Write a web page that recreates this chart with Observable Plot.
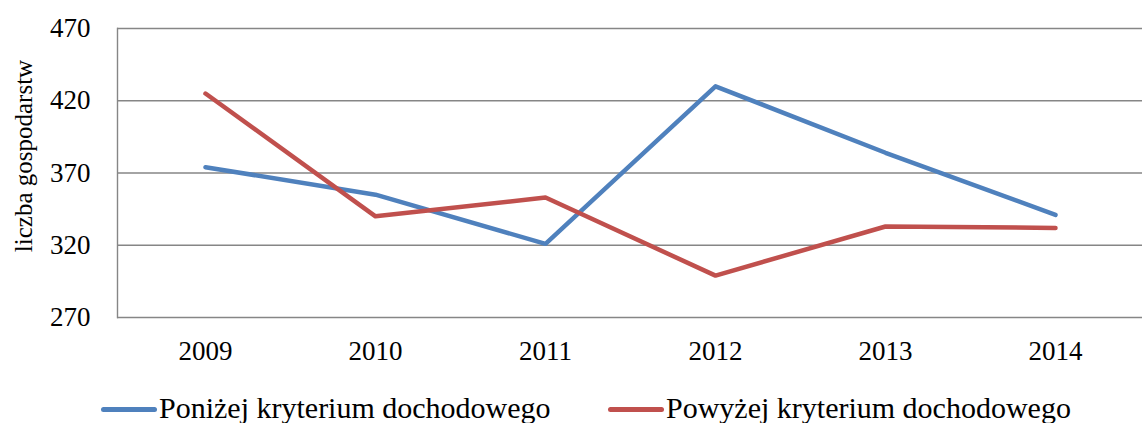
<!DOCTYPE html>
<html>
<head>
<meta charset="utf-8">
<script src="https://cdn.jsdelivr.net/npm/d3@7"></script>
<script src="https://cdn.jsdelivr.net/npm/@observablehq/plot@0.6"></script>
<style>
  body { margin: 0; background: #fff; font-family: "Liberation Serif", "Times New Roman", "DejaVu Serif", serif; }
  #legend { position: relative; height: 43px; width: 1142px; font-size: 30px; color: #000; }
  .item { position: absolute; top: 8px; display: flex; align-items: center; height: 40px; white-space: nowrap; }
  .swatch { width: 56px; height: 5px; border-radius: 3px; margin-right: 2px; margin-top: 2px; }
</style>
</head>
<body>
<div id="chart"></div>
<div id="legend"></div>
<script>
const years = ["2009", "2010", "2011", "2012", "2013", "2014"];
const seriesNames = ["Poniżej kryterium dochodowego", "Powyżej kryterium dochodowego"];
const below = [374, 355, 321, 430, 384, 341];
const above = [425, 340, 353, 299, 333, 332];
const colors = ["#4F81BD", "#C0504D"];
const yTicks = [270, 320, 370, 420, 470];
const yLabel = "liczba gospodarstw";

const rows = [];
[below, above].forEach((vals, s) => {
  vals.forEach((v, i) => rows.push({year: years[i], value: v, series: seriesNames[s]}));
});

const serif = "'Liberation Serif', 'Times New Roman', 'DejaVu Serif', serif";
const chart = Plot.plot({
  width: 1142,
  height: 380,
  marginLeft: 117,
  marginRight: 0,
  marginTop: 28,
  marginBottom: 63,
  style: {fontFamily: serif, fontSize: "27px", color: "#000", background: "#fff"},
  x: {type: "point", domain: years, padding: 0.5},
  y: {domain: [270, 470]},
  color: {domain: seriesNames, range: colors},
  marks: [
    Plot.gridY(yTicks, {stroke: "#868686", strokeOpacity: 1, strokeWidth: 1.4}),
    Plot.frame({anchor: "left", stroke: "#868686", strokeWidth: 1.4}),
    Plot.axisY(yTicks, {tickSize: 0, tickPadding: 27, label: null, fontSize: 27, fontFamily: serif}),
    Plot.axisX(years, {tickSize: 0, tickPadding: 23, label: null, fontSize: 27, fontFamily: serif}),
    Plot.line(rows, {x: "year", y: "value", z: "series", stroke: "series", strokeWidth: 4.5, strokeLinecap: "round", strokeLinejoin: "round"}),
    Plot.text([yLabel], {frameAnchor: "left", textAnchor: "middle", rotate: -90, dx: -94, dy: -17, fontSize: 25, fontFamily: serif, fill: "#000"})
  ]
});
document.getElementById("chart").appendChild(chart);

const legend = document.getElementById("legend");
const lefts = [101, 608];
seriesNames.forEach((name, i) => {
  const item = document.createElement("div");
  item.className = "item";
  item.style.left = lefts[i] + "px";
  const sw = document.createElement("div");
  sw.className = "swatch";
  sw.style.background = colors[i];
  const t = document.createElement("span");
  t.textContent = name;
  item.appendChild(sw);
  item.appendChild(t);
  legend.appendChild(item);
});
</script>
</body>
</html>
